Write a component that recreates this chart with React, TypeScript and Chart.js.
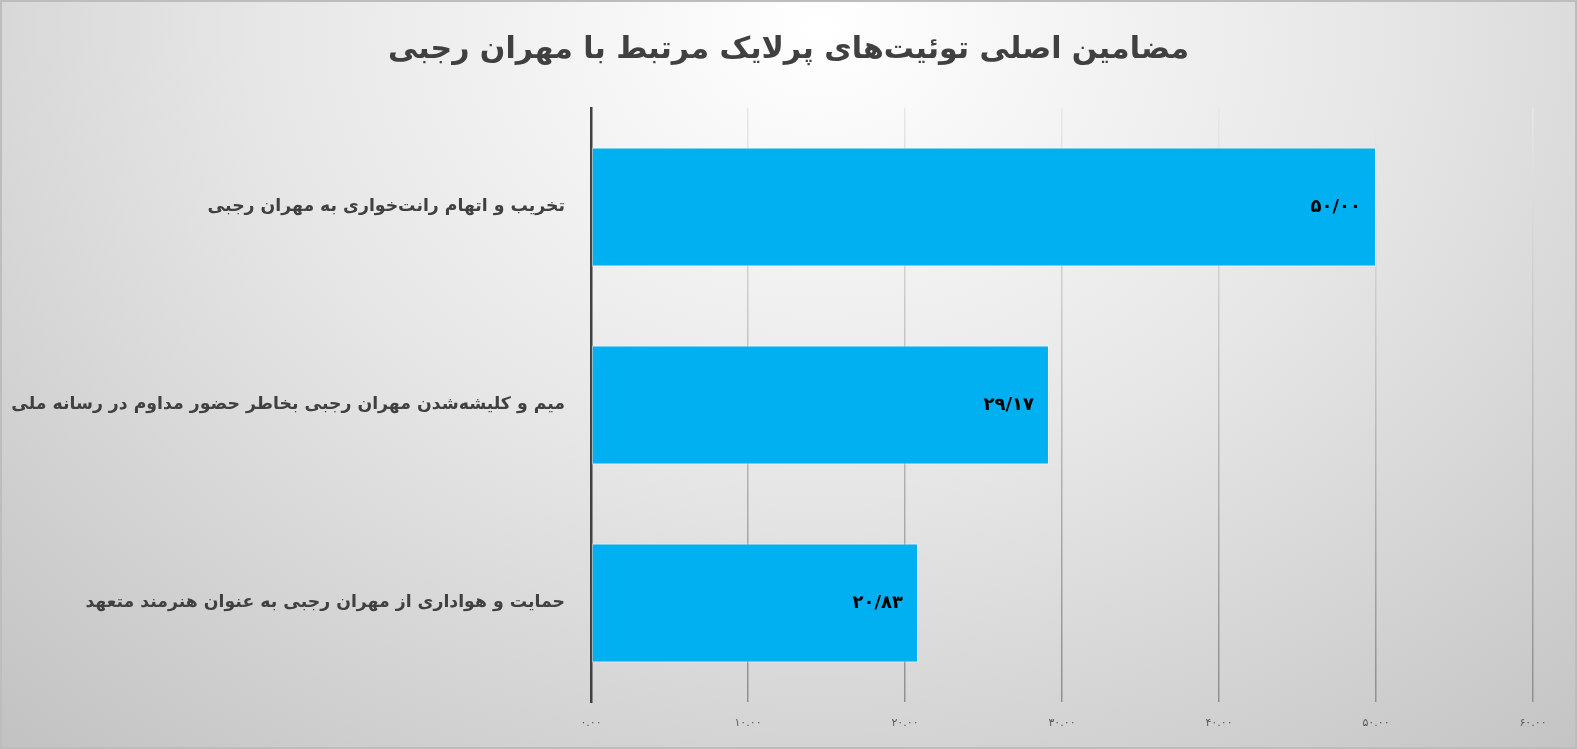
import React, { useEffect, useRef } from "react";
import { Chart, registerables } from "chart.js";
import type { ChartConfiguration, Plugin } from "chart.js";

Chart.register(...registerables);

const chartTitle = "مضامین اصلی توئیت‌های پرلایک مرتبط با مهران رجبی";
const categories = [
  "تخریب و اتهام رانت‌خواری به مهران رجبی",
  "میم و کلیشه‌شدن مهران رجبی بخاطر حضور مداوم در رسانه ملی",
  "حمایت و هواداری از مهران رجبی به عنوان هنرمند متعهد",
];
const shares = [50.0, 29.17, 20.83];
const axisMin = 0;
const axisMax = 60;
const axisStep = 10;

const FONT = "'DejaVu Sans', 'Noto Sans', sans-serif";
const persianDigits = "۰۱۲۳۴۵۶۷۸۹";
const toPersian = (s: string) => s.replace(/[0-9]/g, (d) => persianDigits[Number(d)]);

// value labels drawn at the inside end of each bar
const barLabels: Plugin<"bar"> = {
  id: "barLabels",
  afterDatasetsDraw(chart) {
    const { ctx } = chart;
    const meta = chart.getDatasetMeta(0);
    ctx.save();
    ctx.font = `bold 18px ${FONT}`;
    ctx.fillStyle = "#000000";
    ctx.textAlign = "right";
    ctx.textBaseline = "middle";
    meta.data.forEach((bar, i) => {
      const text = toPersian(shares[i].toFixed(2).replace(".", "/"));
      ctx.fillText(text, bar.x - 15, bar.y);
    });
    ctx.restore();
  },
};

// RTL title, centred over the whole canvas
const rtlTitle: Plugin<"bar"> = {
  id: "rtlTitle",
  afterDraw(chart) {
    const { ctx } = chart;
    ctx.save();
    ctx.direction = "rtl";
    ctx.font = `bold 30px ${FONT}`;
    ctx.fillStyle = "#404040";
    ctx.textAlign = "center";
    ctx.textBaseline = "middle";
    ctx.fillText(chartTitle, chart.width / 2, 50);
    ctx.restore();
  },
};

const App: React.FC = () => {
  const canvasRef = useRef<HTMLCanvasElement | null>(null);
  const chartInstance = useRef<Chart<"bar", number[], string> | null>(null);

  useEffect(() => {
    document.body.style.margin = "0";
    const canvas = canvasRef.current;
    if (!canvas) return;
    if (chartInstance.current) chartInstance.current.destroy();

    const config: ChartConfiguration<"bar", number[], string> = {
      type: "bar",
      data: {
        labels: categories,
        datasets: [
          {
            data: shares,
            backgroundColor: "#00b0f0",
            borderColor: "rgba(255,255,255,0.55)",
            borderWidth: 1,
            borderSkipped: false,
            categoryPercentage: 1,
            barPercentage: 0.6,
          },
        ],
      },
      options: {
        indexAxis: "y",
        responsive: false,
        animation: false,
        layout: { padding: { top: 108, right: 44, bottom: 0, left: 0 } },
        plugins: {
          legend: { display: false },
          tooltip: { enabled: false },
          title: { display: false },
        },
        scales: {
          x: {
            min: axisMin,
            max: axisMax,
            afterFit: (s) => {
              s.height = 47;
            },
            ticks: {
              stepSize: axisStep,
              padding: 15,
              color: "#595959",
              font: { family: FONT, size: 11 },
              callback: (v) => toPersian(Number(v).toFixed(2)),
            },
            grid: {
              lineWidth: 1.5,
              drawTicks: false,
              color: (c) => {
                const area = c.chart.chartArea;
                if (!area) return "#bfbfbf";
                const g = c.chart.ctx.createLinearGradient(0, area.top, 0, area.bottom);
                g.addColorStop(0, "#e8e8e8");
                g.addColorStop(1, "#8f8f8f");
                return g;
              },
            },
            border: { display: false },
          },
          y: {
            afterFit: (s) => {
              s.width = 591;
            },
            ticks: {
              padding: 26,
              color: "#404040",
              font: { family: FONT, size: 17.3, weight: "bold" },
            },
            grid: { display: false, drawTicks: false },
            border: { display: true, color: "#404040", width: 2.5 },
          },
        },
      },
      plugins: [barLabels, rtlTitle],
    };

    chartInstance.current = new Chart(canvas, config);
    return () => {
      if (chartInstance.current) {
        chartInstance.current.destroy();
        chartInstance.current = null;
      }
    };
  }, []);

  return (
    <div
      style={{
        position: "relative",
        width: 1577,
        height: 749,
        background:
          "radial-gradient(ellipse 80% 135% at 52% 4%, #ffffff 0%, #e6e6e6 45%, #bfbfbf 100%)",
        boxShadow: "inset 0 0 0 2px #bdbdbd",
      }}
    >
      <canvas ref={canvasRef} width={1577} height={749} style={{ display: "block" }} />
    </div>
  );
};

export default App;
